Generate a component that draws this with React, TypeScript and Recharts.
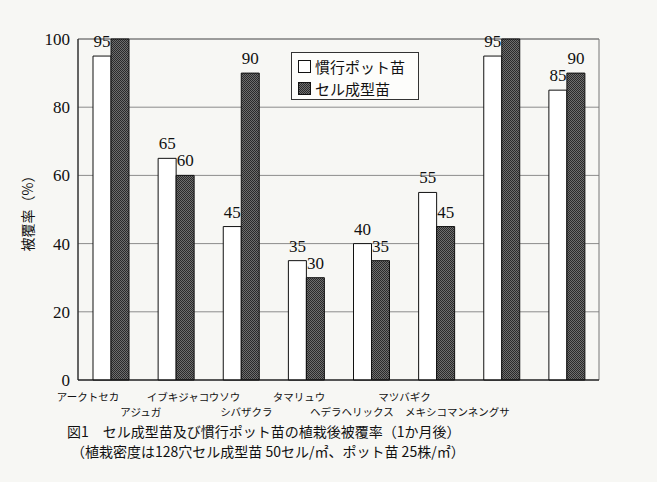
import { BarChart, Bar, XAxis, YAxis, CartesianGrid, LabelList, ReferenceArea } from "recharts"

const categories = [
  "アークトセカ",
  "アジュガ",
  "イブキジャコウソウ",
  "シバザクラ",
  "タマリュウ",
  "ヘデラヘリックス",
  "マツバギク",
  "メキシコマンネングサ",
]
const potValues = [95, 65, 45, 35, 40, 55, 95, 85]
const cellValues = [100, 60, 90, 30, 35, 45, 100, 90]
const yTicks = [0, 20, 40, 60, 80, 100]

const data = categories.map((name, i) => ({
  name,
  pot: potValues[i],
  cell: cellValues[i],
}))

const serif = "'Liberation Serif', 'DejaVu Serif', 'Noto Sans CJK JP', serif"
const jp = "'Noto Sans CJK JP', sans-serif"
const bg = "#f7f7f4"

// 上下2段に振り分けたカテゴリ名
const CategoryTick = (props: any) => {
  const { x, y, payload, index } = props
  // 原図はラベルがやや左寄りに詰まっている
  const lx = 88 + (x - 110.5) * 0.81
  const dy = index % 2 === 0 ? 13 : 28
  return (
    <text x={lx} y={y + dy} textAnchor="middle" fontSize={10.5} fontFamily={jp} fill="#111">
      {payload.value}
    </text>
  )
}

const ValueLabel = (props: any) => {
  const { x, y, width, value } = props
  if (value === 100) return null
  return (
    <text x={x + width / 2} y={y - 9} textAnchor="middle" fontSize={17} fontFamily={serif} fill="#111">
      {value}
    </text>
  )
}

const Checker = ({ size }: { size: number }) => (
  <svg width={size} height={size} style={{ display: "block" }}>
    <defs>
      <pattern id="chkIcon" width="2" height="2" patternUnits="userSpaceOnUse">
        <rect width="2" height="2" fill="#6e6e6e" />
        <rect width="1" height="1" fill="#2a2a2a" />
        <rect x="1" y="1" width="1" height="1" fill="#2a2a2a" />
      </pattern>
    </defs>
    <rect x="0.5" y="0.5" width={size - 1} height={size - 1} fill="url(#chkIcon)" stroke="#111" />
  </svg>
)

export default function App() {
  return (
    <div style={{ position: "absolute", left: 0, top: 0, width: 657, height: 482, background: bg }}>
      <BarChart
        width={657}
        height={482}
        data={data}
        margin={{ top: 39, right: 58, bottom: 62, left: 28 }}
        barGap={0}
        barSize={18}>
        <defs>
          <pattern id="chk" width="2" height="2" patternUnits="userSpaceOnUse">
            <rect width="2" height="2" fill="#6e6e6e" />
            <rect width="1" height="1" fill="#2a2a2a" />
            <rect x="1" y="1" width="1" height="1" fill="#2a2a2a" />
          </pattern>
        </defs>
        <CartesianGrid vertical={false} stroke="#8c8c8c" />
        <ReferenceArea y1={0} y2={100} fill="none" stroke="#777" strokeWidth={1} />
        <XAxis
          dataKey="name"
          interval={0}
          height={40}
          tickLine={false}
          axisLine={{ stroke: "#111" }}
          tick={<CategoryTick />}
        />
        <YAxis
          domain={[0, 100]}
          ticks={yTicks}
          width={50}
          tickLine={false}
          axisLine={{ stroke: "#111" }}
          tick={{ fontSize: 17, fontFamily: serif, fill: "#111" }}
        />
        <Bar dataKey="pot" fill="#ffffff" stroke="#111" strokeWidth={1} isAnimationActive={false}>
          <LabelList dataKey="pot" content={<ValueLabel />} />
        </Bar>
        <Bar dataKey="cell" fill="url(#chk)" stroke="#111" strokeWidth={1} isAnimationActive={false}>
          <LabelList dataKey="cell" content={<ValueLabel />} />
        </Bar>
      </BarChart>

      <div
        style={{
          position: "absolute",
          left: 8,
          top: 210,
          transform: "translate(-50%, -50%) rotate(-90deg)",
          transformOrigin: "center",
          whiteSpace: "nowrap",
          fontFamily: jp,
          fontSize: 14,
          color: "#111",
          marginLeft: 19,
        }}>
        被覆率（%）
      </div>

      <div
        style={{
          position: "absolute",
          left: 291,
          top: 52,
          width: 128,
          height: 48,
          boxSizing: "border-box",
          border: "1px solid #333",
          background: "#fdfdfb",
          fontFamily: jp,
          fontSize: 15,
          color: "#111",
          padding: "2px 0 0 6px",
        }}>
        <div style={{ display: "flex", alignItems: "center", height: 22, gap: 4 }}>
          <div style={{ width: 11, height: 11, border: "1px solid #111", background: "#fff" }} />
          <span>慣行ポット苗</span>
        </div>
        <div style={{ display: "flex", alignItems: "center", height: 22, gap: 4 }}>
          <Checker size={13} />
          <span>セル成型苗</span>
        </div>
      </div>

      <div
        style={{
          position: "absolute",
          left: 67,
          top: 421,
          fontFamily: jp,
          fontSize: 14,
          color: "#111",
          whiteSpace: "nowrap",
          lineHeight: "20px",
        }}>
        図1　セル成型苗及び慣行ポット苗の植栽後被覆率（1か月後）
        <br />
        <span style={{ marginLeft: 4 }}>（植栽密度は128穴セル成型苗 50セル/㎡、ポット苗 25株/㎡）</span>
      </div>
    </div>
  )
}
